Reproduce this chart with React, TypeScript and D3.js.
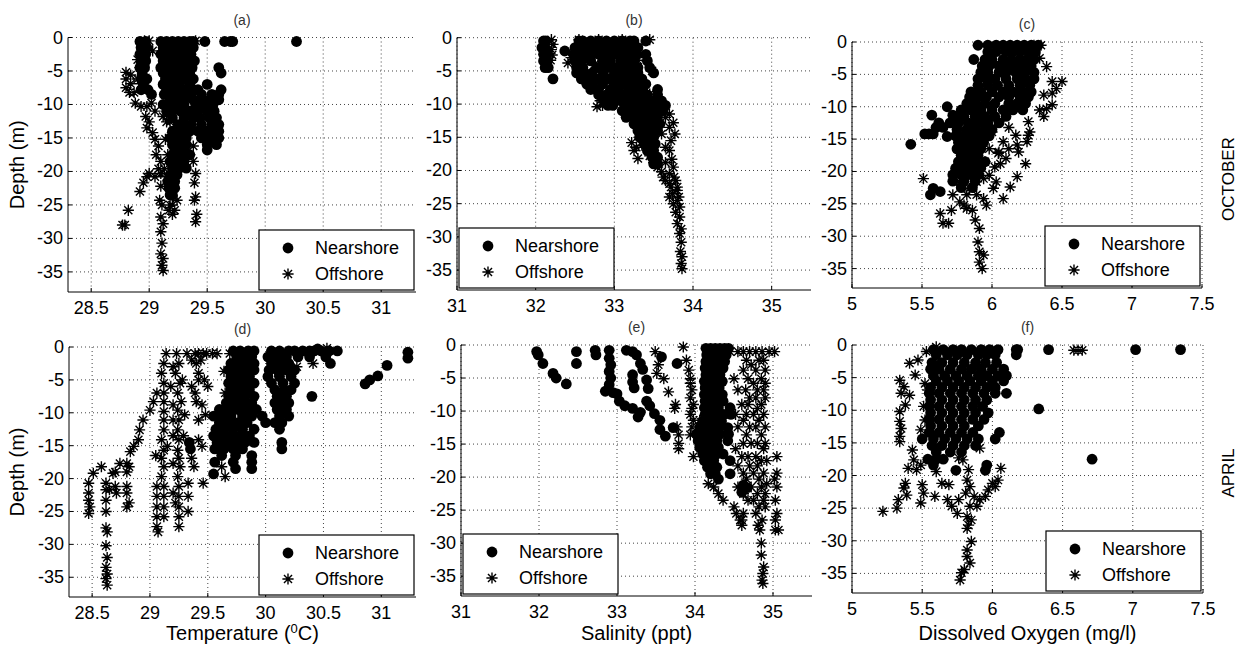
import React from "react";
import * as d3 from "d3";

// each row: [depth (m), [x values observed at that depth]]
type Row = [number, number[]];

const tempTicks = [28.5, 29, 29.5, 30, 30.5, 31];
const salTicks = [31, 32, 33, 34, 35];
const doTicks = [5, 5.5, 6, 6.5, 7, 7.5];
const depthTicks = [0, -5, -10, -15, -20, -25, -30, -35];
const panelTitles = ["(a)", "(b)", "(c)", "(d)", "(e)", "(f)"];
const seriesNames = ["Nearshore", "Offshore"];

// (a) October temperature
const octTempNear: Row[] = [
  [-0.6, [28.92, 28.97, 29.1, 29.15, 29.2, 29.25, 29.3, 29.35, 29.38, 29.48, 29.65, 29.7, 29.72, 30.27]],
  [-1.5, [28.93, 28.98, 29.12, 29.18, 29.22, 29.28, 29.33, 29.38]],
  [-2.5, [28.92, 28.97, 29.1, 29.16, 29.24, 29.3, 29.36]],
  [-3.5, [28.93, 28.97, 29.12, 29.2, 29.26, 29.34, 29.39]],
  [-4.5, [28.92, 28.96, 29.1, 29.17, 29.22, 29.3, 29.37, 29.6]],
  [-5.3, [28.94, 29.12, 29.2, 29.28, 29.35, 29.62]],
  [-6.2, [28.93, 28.98, 29.14, 29.22, 29.3, 29.38]],
  [-7, [28.95, 29.12, 29.18, 29.26, 29.35, 29.5]],
  [-7.8, [28.93, 28.99, 29.15, 29.22, 29.3, 29.38, 29.42, 29.62]],
  [-8.5, [29.02, 29.13, 29.2, 29.28, 29.36, 29.45, 29.54, 29.6]],
  [-9.3, [29.18, 29.25, 29.3, 29.38, 29.45, 29.52, 29.6]],
  [-10, [29.12, 29.17, 29.22, 29.3, 29.4, 29.48, 29.55]],
  [-11, [29.15, 29.2, 29.27, 29.35, 29.42, 29.5, 29.56]],
  [-12, [29.2, 29.3, 29.38, 29.44, 29.52, 29.58]],
  [-13, [29.25, 29.3, 29.36, 29.45, 29.54, 29.6]],
  [-14, [29.2, 29.28, 29.35, 29.42, 29.5, 29.57, 29.6]],
  [-15, [29.18, 29.25, 29.32, 29.45, 29.52, 29.6]],
  [-16, [29.2, 29.26, 29.32, 29.5, 29.58]],
  [-16.8, [29.22, 29.3, 29.5]],
  [-17.5, [29.2, 29.25, 29.3, 29.35]],
  [-18.5, [29.18, 29.24, 29.3]],
  [-19.5, [29.2, 29.26, 29.32]],
  [-20.5, [29.18, 29.24]],
  [-21.5, [29.16, 29.22]],
  [-22.5, [29.17, 29.22]],
  [-23.5, [29.18, 29.2]],
];
const octTempOff: Row[] = [
  [-0.5, [28.96, 29.0, 29.4]],
  [-2, [29.03]],
  [-3.3, [28.9]],
  [-4.5, [28.92]],
  [-5.2, [28.8]],
  [-5.6, [28.84]],
  [-6.2, [28.8, 28.9]],
  [-6.9, [28.84, 28.93]],
  [-7.5, [28.8]],
  [-8.2, [28.83, 28.87]],
  [-9.8, [28.88, 29.02]],
  [-10.3, [28.93, 28.98]],
  [-11, [29.05]],
  [-11.8, [28.97, 29.12]],
  [-12.6, [29.0, 29.15, 29.18]],
  [-13.5, [28.98]],
  [-14.2, [29.03, 29.2]],
  [-15.2, [29.05, 29.14]],
  [-16.2, [29.08, 29.22, 29.38]],
  [-17.5, [29.06, 29.16, 29.35]],
  [-18.5, [29.1, 29.38]],
  [-19.6, [29.08, 29.13]],
  [-20.3, [29.0, 29.1, 29.4]],
  [-20.8, [28.98, 29.05, 29.15]],
  [-21.7, [28.95, 29.39]],
  [-22.2, [29.1, 29.2]],
  [-23, [28.92]],
  [-23.8, [29.4]],
  [-24.3, [29.09, 29.39, 29.24]],
  [-25, [29.11, 29.2, 29.18]],
  [-25.8, [28.82, 29.17, 29.22]],
  [-26.4, [29.41, 29.2]],
  [-26.8, [29.1]],
  [-27.5, [29.4]],
  [-27.8, [29.12]],
  [-28, [28.77, 28.79]],
  [-29, [29.1]],
  [-30.7, [29.11]],
  [-32.3, [29.1]],
  [-33, [29.12]],
  [-34, [29.11]],
  [-34.8, [29.12]],
];

// (b) October salinity
const octSalNear: Row[] = [
  [-0.5, [32.1, 32.13, 32.55, 32.6, 32.7, 32.8, 32.9, 33.0, 33.1, 33.2, 33.25, 33.4]],
  [-1.5, [32.08, 32.12, 32.5, 32.58, 32.66, 32.75, 32.85, 32.95, 33.05, 33.15, 33.22, 33.3]],
  [-2, [32.37]],
  [-2.5, [32.1, 32.14, 32.48, 32.55, 32.62, 32.72, 32.8, 32.92, 33.0, 33.1, 33.2, 33.28, 33.4]],
  [-3.5, [32.1, 32.15, 32.5, 32.58, 32.7, 32.85, 32.95, 33.08, 33.18, 33.25, 33.42]],
  [-4.5, [32.12, 32.16, 32.52, 32.6, 32.78, 32.9, 33.02, 33.12, 33.2, 33.3, 33.45]],
  [-5.3, [32.52, 32.62, 32.72, 32.86, 33.0, 33.1, 33.2, 33.3, 33.5]],
  [-6.2, [32.22, 32.58, 32.68, 32.8, 32.92, 33.05, 33.15, 33.25, 33.35]],
  [-7, [32.65, 32.72, 32.85, 33.0, 33.1, 33.2, 33.3, 33.4]],
  [-7.8, [32.7, 32.8, 32.95, 33.05, 33.18, 33.28, 33.36, 33.55]],
  [-8.6, [32.8, 32.9, 33.02, 33.12, 33.22, 33.32, 33.42, 33.55]],
  [-9.5, [32.88, 32.96, 33.08, 33.2, 33.3, 33.4, 33.5, 33.6]],
  [-10.2, [32.92, 32.98, 33.15, 33.25, 33.35, 33.45, 33.55, 33.65]],
  [-11, [33.1, 33.2, 33.3, 33.4, 33.5, 33.62]],
  [-12, [33.15, 33.25, 33.35, 33.45, 33.55]],
  [-13, [33.25, 33.35, 33.42, 33.5, 33.58]],
  [-14, [33.3, 33.4, 33.48, 33.55]],
  [-15, [33.32, 33.42, 33.5]],
  [-16, [33.38, 33.45, 33.52]],
  [-17, [33.42, 33.5]],
  [-18, [33.48, 33.55]],
  [-19, [33.5, 33.55]],
];
const octSalOff: Row[] = [
  [-0.3, [32.2, 32.55, 32.8, 33.1, 33.45]],
  [-1, [32.22]],
  [-1.8, [32.2]],
  [-2.6, [32.21, 32.6]],
  [-3.4, [32.19, 33.3]],
  [-3.8, [32.41]],
  [-3, [32.45, 33.4]],
  [-4, [32.75]],
  [-5, [33.48]],
  [-5.5, [32.7, 33.2]],
  [-6.5, [32.9]],
  [-8, [33.0]],
  [-8.5, [33.45]],
  [-9.2, [33.1]],
  [-9.5, [32.82]],
  [-10.2, [32.85]],
  [-10.4, [32.78, 33.6]],
  [-11.5, [33.25, 33.7]],
  [-12, [33.65]],
  [-12.5, [33.3]],
  [-12.8, [33.4, 33.75]],
  [-13.2, [33.55]],
  [-13.5, [33.35, 33.7]],
  [-14, [33.45]],
  [-14.5, [33.6, 33.77]],
  [-15.5, [33.72]],
  [-15.8, [33.22]],
  [-16.2, [33.35]],
  [-16.5, [33.28, 33.65]],
  [-17, [33.25, 33.7]],
  [-17.8, [33.45]],
  [-18.2, [33.3]],
  [-18.3, [33.73]],
  [-18.8, [33.5, 33.65]],
  [-19.5, [33.55, 33.75]],
  [-20.2, [33.6]],
  [-20.5, [33.7]],
  [-21, [33.62, 33.76]],
  [-21.5, [33.65, 33.78]],
  [-22, [33.7]],
  [-22.5, [33.72, 33.8]],
  [-23, [33.8]],
  [-23.5, [33.74]],
  [-24, [33.7, 33.82]],
  [-24.5, [33.8]],
  [-25, [33.75]],
  [-25.5, [33.83]],
  [-26.3, [33.78]],
  [-27, [33.83]],
  [-28, [33.8]],
  [-28.8, [33.85]],
  [-29.5, [33.83]],
  [-30.8, [33.85]],
  [-32.2, [33.84]],
  [-33, [33.86]],
  [-34, [33.85]],
  [-34.8, [33.86]],
];

// (c) October dissolved oxygen
const octDoNear: Row[] = [
  [-0.5, [5.9, 5.97, 6.03, 6.08, 6.13, 6.18, 6.23, 6.28, 6.33]],
  [-1.5, [5.97, 6.03, 6.1, 6.15, 6.2, 6.26, 6.31]],
  [-2.7, [5.87, 5.95, 6.0, 6.08, 6.14, 6.2, 6.25, 6.3]],
  [-3.7, [5.93, 5.98, 6.05, 6.12, 6.17, 6.22, 6.28]],
  [-4.7, [5.92, 5.97, 6.05, 6.1, 6.17, 6.23, 6.3]],
  [-5.7, [5.9, 5.96, 6.02, 6.1, 6.18, 6.24, 6.3]],
  [-6.7, [5.9, 5.97, 6.04, 6.12, 6.2, 6.27]],
  [-7.7, [5.85, 5.92, 6.0, 6.08, 6.15, 6.22, 6.28]],
  [-8.5, [5.84, 5.9, 5.96, 6.05, 6.12, 6.2, 6.26]],
  [-9.5, [5.82, 5.88, 5.95, 6.02, 6.12, 6.18, 6.24]],
  [-10, [5.68]],
  [-10.5, [5.78, 5.85, 5.92, 6.0, 6.08, 6.15, 6.22]],
  [-11.3, [5.57, 5.72]],
  [-11.5, [5.73, 5.8, 5.88, 5.95, 6.02, 6.1]],
  [-12.5, [5.62, 5.7, 5.76, 5.83, 5.9, 5.97, 6.05]],
  [-13.2, [5.6, 5.65]],
  [-13.5, [5.75, 5.82, 5.88, 5.95, 6.0]],
  [-14.2, [5.52, 5.55, 5.58]],
  [-14.5, [5.74, 5.8, 5.86, 5.92, 5.98]],
  [-14.6, [5.68]],
  [-15.5, [5.76, 5.82, 5.88, 5.94]],
  [-15.8, [5.42]],
  [-16.5, [5.75, 5.8, 5.86, 5.92]],
  [-17.5, [5.78, 5.84, 5.9]],
  [-18.5, [5.76, 5.82, 5.88, 5.95]],
  [-19.5, [5.74, 5.8, 5.86, 5.92]],
  [-20.5, [5.72, 5.78, 5.85, 5.9]],
  [-21.5, [5.72, 5.8, 5.88]],
  [-22.5, [5.78, 5.86]],
  [-22.6, [5.58]],
  [-23.1, [5.63]],
  [-23.6, [5.56]],
];
const octDoOff: Row[] = [
  [-0.5, [6.35, 6.3]],
  [-2.5, [6.34]],
  [-3.8, [6.39]],
  [-6.1, [6.43, 6.5]],
  [-7.2, [6.46]],
  [-7.9, [6.43]],
  [-8.2, [6.37]],
  [-9.7, [6.43]],
  [-10.3, [6.39]],
  [-10.5, [6.34]],
  [-11.5, [6.37]],
  [-12.3, [6.26, 6.05]],
  [-13.2, [6.12]],
  [-13.9, [6.27, 6.0]],
  [-14.4, [6.26, 6.17]],
  [-15.4, [6.25, 6.08]],
  [-15.9, [6.18]],
  [-16.5, [5.98, 6.12]],
  [-17, [6.19, 6.05]],
  [-17.2, [6.045]],
  [-18, [6.1]],
  [-18.5, [5.77, 5.95]],
  [-18.8, [6.24, 6.06]],
  [-19.3, [6.02]],
  [-20.6, [5.82, 5.98]],
  [-20.8, [6.18]],
  [-21.1, [5.51, 5.94]],
  [-21.6, [6.03, 5.89, 5.77]],
  [-22.4, [6.13]],
  [-22.6, [6.01, 5.84]],
  [-23.6, [5.72, 5.82, 5.89]],
  [-24.2, [6.08, 5.94]],
  [-24.7, [5.77]],
  [-25.2, [5.96, 5.8]],
  [-25.7, [5.82]],
  [-26, [5.71, 5.86]],
  [-26.5, [5.63]],
  [-27.5, [5.88]],
  [-28, [5.65, 5.69]],
  [-28.8, [5.91]],
  [-30.9, [5.9]],
  [-32.4, [5.91]],
  [-32.9, [5.94]],
  [-34, [5.91]],
  [-35, [5.93]],
];

// (d) April temperature
const aprTempNear: Row[] = [
  [-0.3, [30.45]],
  [-0.6, [29.72, 29.78, 29.85, 29.9, 30.05, 30.12, 30.2, 30.25, 30.32, 30.38, 30.42, 30.48, 30.55, 30.62]],
  [-0.8, [31.23]],
  [-1.5, [29.75, 29.8, 29.88, 30.02, 30.1, 30.18, 30.28, 30.38, 30.52]],
  [-1.7, [31.23]],
  [-2.5, [29.7, 29.77, 29.85, 29.9, 30.05, 30.12, 30.2, 30.56]],
  [-2.8, [31.05]],
  [-3.5, [29.68, 29.75, 29.82, 29.9, 30.03, 30.1, 30.18, 30.25]],
  [-4.4, [30.97]],
  [-4.5, [29.7, 29.78, 29.86, 30.02, 30.12, 30.22]],
  [-5, [30.9]],
  [-5.5, [29.68, 29.74, 29.82, 29.9, 30.05, 30.15, 30.25]],
  [-5.6, [30.86]],
  [-6.5, [29.7, 29.78, 29.86, 30.08, 30.16, 30.22]],
  [-7.5, [29.68, 29.75, 29.82, 29.9, 30.1, 30.18, 30.4]],
  [-8.5, [29.66, 29.72, 29.8, 29.88, 30.08, 30.15, 30.2]],
  [-9.5, [29.6, 29.68, 29.76, 29.84, 29.92, 30.1, 30.18]],
  [-10.5, [29.55, 29.62, 29.7, 29.8, 29.88, 29.97, 30.12, 30.2]],
  [-11.5, [29.6, 29.68, 29.76, 29.84, 30.0, 30.08, 30.14]],
  [-12.5, [29.57, 29.64, 29.72, 29.8, 29.9, 30.12]],
  [-13.5, [29.55, 29.62, 29.7, 29.78, 29.86]],
  [-14.5, [29.34, 29.58, 29.66, 29.74, 29.82, 29.9, 30.14]],
  [-15.5, [29.35, 29.56, 29.64, 29.72, 29.8, 30.14]],
  [-16.5, [29.62, 29.74, 29.88]],
  [-17.5, [29.56, 29.72, 29.88]],
  [-18.5, [29.74, 29.88]],
  [-19.3, [29.55]],
];
const aprTempOff: Row[] = [
  [-0.2, [30.53]],
  [-1, [29.14, 29.23, 29.32, 29.39, 29.42, 29.46, 29.49, 29.54, 29.58, 29.69]],
  [-2, [29.36, 29.44]],
  [-2.5, [29.12, 29.25, 29.4, 30.41]],
  [-3, [30.27, 29.2]],
  [-3.7, [30.08, 29.64]],
  [-4, [29.1, 29.22, 29.42]],
  [-5, [29.42, 29.47, 29.28]],
  [-5.5, [29.12, 29.26]],
  [-6, [29.18, 29.36, 29.5]],
  [-7, [29.06, 29.12, 29.24, 29.39, 29.65]],
  [-8.3, [29.03, 29.12, 29.27, 29.4]],
  [-8.8, [29.45, 29.2]],
  [-9.6, [29.0, 29.24]],
  [-9.8, [29.12]],
  [-10.3, [29.48, 29.3]],
  [-11.1, [28.94, 29.12, 29.42, 29.25, 29.2]],
  [-12.6, [28.91, 29.12, 29.24, 29.66]],
  [-13.5, [29.2, 29.29]],
  [-14.1, [28.9, 29.1, 29.25, 29.42]],
  [-15.1, [28.86, 29.15, 29.45]],
  [-15.7, [29.12, 29.24]],
  [-15.9, [28.83]],
  [-16.5, [29.05]],
  [-16.9, [29.1, 29.25, 29.36]],
  [-17.7, [28.74, 28.8, 29.2]],
  [-18.2, [28.58, 28.82, 29.12, 29.26, 29.38, 29.62]],
  [-19, [28.7, 28.8]],
  [-19.2, [28.51, 28.68]],
  [-19.7, [29.1, 29.24, 29.65]],
  [-20.7, [28.47, 28.62, 29.33, 29.46]],
  [-21.2, [28.7, 28.8, 29.06, 29.12, 29.25]],
  [-21.7, [28.62, 28.65]],
  [-22.2, [28.47, 28.71, 28.8, 29.2]],
  [-22.7, [29.06, 29.12, 29.25, 29.33]],
  [-23.3, [28.47, 28.62]],
  [-23.7, [28.82, 29.22]],
  [-24.3, [28.48, 28.8, 29.06, 29.12, 29.25]],
  [-25, [28.62, 29.33]],
  [-25.3, [28.47]],
  [-25.8, [29.06, 29.12, 29.25]],
  [-27.3, [29.06, 29.25]],
  [-27.5, [28.62]],
  [-28.1, [28.63, 29.07]],
  [-30.2, [28.62]],
  [-32, [28.63]],
  [-33.5, [28.62]],
  [-34.5, [28.63]],
  [-35.2, [28.62]],
  [-36.2, [28.63]],
];

// (e) April salinity
const aprSalNear: Row[] = [
  [-0.5, [34.14, 34.2, 34.26, 34.32, 34.38, 34.43]],
  [-0.8, [32.72, 32.9, 33.12]],
  [-1, [31.97, 32.48, 33.2]],
  [-1.5, [31.99, 32.73, 33.25, 34.15, 34.22, 34.28, 34.34, 34.4]],
  [-1.8, [33.57]],
  [-2, [32.9]],
  [-2.5, [34.14, 34.2, 34.26, 34.32, 34.38]],
  [-2.8, [32.05, 32.48, 33.3, 33.77]],
  [-3, [32.92]],
  [-3.5, [34.13, 34.19, 34.25, 34.31, 34.36]],
  [-3.7, [33.33]],
  [-4, [32.9]],
  [-4.3, [32.18]],
  [-4.5, [33.2, 34.14, 34.2, 34.26, 34.32]],
  [-5, [32.22, 32.92]],
  [-5.3, [33.38]],
  [-5.5, [34.12, 34.18, 34.24, 34.3, 34.35]],
  [-5.6, [33.2]],
  [-5.9, [32.35]],
  [-6, [32.9]],
  [-6.5, [33.22, 34.13, 34.19, 34.25, 34.31]],
  [-6.6, [33.4]],
  [-7, [32.85]],
  [-7.2, [32.95]],
  [-7.4, [33.0]],
  [-7.5, [34.12, 34.18, 34.24, 34.3, 34.35]],
  [-8.5, [33.03, 33.38, 34.13, 34.19, 34.25, 34.31, 34.36]],
  [-9.2, [33.1, 33.42]],
  [-9.5, [34.12, 34.18, 34.24, 34.3, 34.45]],
  [-9.6, [33.2]],
  [-10.2, [33.3]],
  [-10.4, [33.48]],
  [-10.5, [34.13, 34.19, 34.25, 34.31, 34.37, 34.46]],
  [-10.9, [33.27]],
  [-11.4, [33.55]],
  [-11.5, [34.1, 34.16, 34.22, 34.28, 34.34]],
  [-12.5, [33.72, 34.06, 34.12, 34.18, 34.24, 34.3, 34.42]],
  [-12.8, [33.55]],
  [-13.5, [34.02, 34.08, 34.14, 34.2, 34.26, 34.32, 34.43]],
  [-13.8, [33.62]],
  [-14.5, [34.04, 34.1, 34.16, 34.22, 34.28, 34.42]],
  [-15.5, [34.06, 34.12, 34.18, 34.24, 34.3]],
  [-16.5, [34.1, 34.16, 34.22, 34.28, 34.36]],
  [-17.5, [34.12, 34.18, 34.24, 34.45]],
  [-18.5, [34.16, 34.22, 34.28]],
  [-19.5, [34.2, 34.26, 34.45]],
  [-20.3, [34.3]],
  [-21.2, [34.62]],
  [-21.6, [34.67]],
  [-22.3, [34.6]],
];
const aprSalOff: Row[] = [
  [-0.3, [33.85]],
  [-1, [33.49, 34.45, 34.55, 34.62, 34.7, 34.78, 34.86, 34.95, 35.02]],
  [-2.3, [33.89, 34.66, 34.82, 34.88]],
  [-3, [33.53, 34.72]],
  [-3.8, [33.92, 34.62, 34.78, 34.9]],
  [-4.3, [33.51]],
  [-5.1, [33.6, 33.94, 34.5, 34.68, 34.85]],
  [-5.8, [33.94, 34.75, 34.9]],
  [-6.8, [33.96, 34.55, 34.65, 34.8, 34.88]],
  [-7.1, [33.66]],
  [-8, [33.94, 34.7, 34.78, 34.9]],
  [-9, [33.75, 33.98, 34.6, 34.68, 34.85]],
  [-9.6, [33.74, 33.96, 34.8]],
  [-10.5, [33.94, 34.52, 34.66, 34.75, 34.88]],
  [-11.4, [34.06, 33.98, 34.62, 34.82]],
  [-12.4, [33.77, 33.96, 34.55, 34.7, 34.78, 34.9]],
  [-13.6, [33.79, 33.94, 34.66, 34.85]],
  [-14.9, [33.79, 34.62, 34.72, 34.8, 34.9]],
  [-15.7, [33.79, 34.52, 34.88]],
  [-16.9, [33.98, 34.6, 34.68, 34.78, 35.05]],
  [-17.5, [34.85, 34.92]],
  [-18.3, [34.55, 34.7, 34.8]],
  [-19.4, [34.62, 34.75, 34.88, 35.05]],
  [-20.3, [34.66, 34.82, 35.02]],
  [-21, [34.17, 34.92]],
  [-21.5, [34.24, 34.55, 34.72, 34.85, 35.05]],
  [-22.5, [34.3, 34.62, 34.8, 34.9]],
  [-23.5, [34.36, 34.68, 34.75, 34.88, 35.03]],
  [-24.5, [34.5, 34.82, 34.9]],
  [-25.5, [34.53, 34.62, 34.78, 35.05]],
  [-26.5, [34.58, 34.6, 34.86, 35.03]],
  [-27.3, [34.6, 34.81]],
  [-28, [35.07, 34.83, 35.03]],
  [-30, [34.85]],
  [-31.8, [34.85]],
  [-33.6, [34.88]],
  [-34.6, [34.87]],
  [-35.6, [34.86]],
  [-36.1, [34.87]],
];

// (f) April dissolved oxygen
const aprDoNear: Row[] = [
  [-0.7, [5.58, 5.65, 5.72, 5.78, 5.85, 5.92, 5.98, 6.04, 6.17, 6.18, 6.4, 7.02, 7.34]],
  [-1.5, [5.6, 5.68, 5.75, 5.82, 5.9, 5.96, 6.02, 6.17]],
  [-2.7, [5.57, 5.64, 5.72, 5.8, 5.88, 5.95, 6.03]],
  [-3.7, [5.56, 5.62, 5.7, 5.78, 5.85, 5.92, 6.0, 6.08]],
  [-4.7, [5.58, 5.66, 5.74, 5.82, 5.9, 5.96, 6.04, 6.1]],
  [-5.5, [5.6, 5.68, 5.76, 5.84, 5.92, 6.0, 6.08]],
  [-6.5, [5.56, 5.64, 5.72, 5.8, 5.88, 5.96, 6.02]],
  [-7.4, [5.55, 5.62, 5.7, 5.78, 5.86, 5.94, 6.02, 6.1]],
  [-8.4, [5.56, 5.64, 5.72, 5.8, 5.88, 5.96]],
  [-9.4, [5.55, 5.62, 5.7, 5.78, 5.86, 5.93]],
  [-9.8, [6.33]],
  [-10.4, [5.56, 5.64, 5.72, 5.8, 5.88, 5.97]],
  [-11.4, [5.55, 5.62, 5.7, 5.78, 5.86, 5.94]],
  [-12.4, [5.56, 5.64, 5.72, 5.8, 5.9]],
  [-13.4, [5.55, 5.62, 5.7, 5.78, 5.86, 6.05]],
  [-14.4, [5.5, 5.58, 5.66, 5.74, 5.82, 5.9, 6.02]],
  [-15.4, [5.57, 5.64, 5.72, 5.8, 5.88]],
  [-16.4, [5.6, 5.7, 5.78]],
  [-17.5, [5.54, 5.6, 5.65, 6.71]],
  [-18.4, [5.58, 5.96]],
  [-19.2, [5.74, 5.95]],
];
const aprDoOff: Row[] = [
  [-0.3, [5.6]],
  [-0.8, [6.58, 6.61, 6.64]],
  [-1, [5.53]],
  [-2.3, [5.47]],
  [-2.8, [5.41]],
  [-4.6, [5.45]],
  [-5.4, [5.34]],
  [-5.9, [5.52]],
  [-6.4, [5.37]],
  [-6.9, [5.54]],
  [-7.4, [5.35]],
  [-7.7, [5.41]],
  [-9.2, [5.38]],
  [-9.4, [5.51]],
  [-10.2, [5.34]],
  [-11.5, [5.52]],
  [-11.7, [5.34]],
  [-12.8, [5.35]],
  [-13, [5.49]],
  [-14, [5.34]],
  [-14.8, [5.34]],
  [-15.8, [5.91]],
  [-16.1, [5.43]],
  [-17.3, [5.76]],
  [-17.6, [5.44, 5.79]],
  [-18.4, [5.49]],
  [-18.9, [5.4, 6.06]],
  [-19.1, [5.46, 5.83]],
  [-19.4, [5.6]],
  [-20.7, [5.82, 6.04]],
  [-21.2, [5.38, 5.64, 6.0]],
  [-21.4, [5.5, 5.69]],
  [-21.7, [5.84, 6.02]],
  [-21.9, [5.37]],
  [-22.2, [5.97]],
  [-22.7, [5.51, 5.81]],
  [-23, [5.39]],
  [-23.2, [5.59, 5.87, 5.95]],
  [-23.7, [5.33, 5.68, 5.76, 5.91]],
  [-24.2, [5.49]],
  [-24.7, [5.71, 5.84, 5.89]],
  [-25, [5.32]],
  [-25.5, [5.22]],
  [-25.8, [5.75]],
  [-26.3, [5.82]],
  [-26.8, [5.85]],
  [-27.6, [5.83]],
  [-28.1, [5.82]],
  [-30.1, [5.85]],
  [-31.4, [5.82]],
  [-32.4, [5.82]],
  [-33.4, [5.84]],
  [-34.4, [5.8]],
  [-34.9, [5.78]],
  [-36, [5.77]],
];

const FONT = "'Liberation Sans', Arial, Helvetica, sans-serif";

// layout of the six axes, in page pixels
const panels = [
  { near: octTempNear, off: octTempOff, ticks: tempTicks, domain: [28.3, 31.3], left: 68, right: 416, top: 37.5, bottom: 292, legendLeft: false },
  { near: octSalNear, off: octSalOff, ticks: salTicks, domain: [31, 35.5], left: 457, right: 811, top: 37.7, bottom: 290, legendLeft: true },
  { near: octDoNear, off: octDoOff, ticks: doTicks, domain: [5, 7.5], left: 852, right: 1202, top: 42, bottom: 288, legendLeft: false },
  { near: aprTempNear, off: aprTempOff, ticks: tempTicks, domain: [28.3, 31.3], left: 69, right: 416, top: 347, bottom: 597, legendLeft: false },
  { near: aprSalNear, off: aprSalOff, ticks: salTicks, domain: [31, 35.5], left: 461, right: 812, top: 345, bottom: 596, legendLeft: true },
  { near: aprDoNear, off: aprDoOff, ticks: doTicks, domain: [5, 7.5], left: 852, right: 1203, top: 345, bottom: 593, legendLeft: false },
];

const flatten = (rows: Row[]) => rows.flatMap(([d, xs]) => xs.map((x) => ({ x, d })));

function starPath(cx: number, cy: number, r: number) {
  const k = r * 0.72;
  return `M${cx - r},${cy}H${cx + r}M${cx},${cy - r}V${cy + r}` +
    `M${cx - k},${cy - k}L${cx + k},${cy + k}M${cx - k},${cy + k}L${cx + k},${cy - k}`;
}

function Panel({ cfg, title }: { cfg: any; title: string }) {
  const x = d3.scaleLinear().domain(cfg.domain).range([cfg.left, cfg.right]);
  const y = d3.scaleLinear().domain([-38, 0]).range([cfg.bottom, cfg.top]);
  const near = flatten(cfg.near);
  const off = flatten(cfg.off);
  const stars = off.map((p) => starPath(x(p.x), y(p.d), 5.6)).join("");

  const lw = 155, lh = 60;
  const lx = cfg.legendLeft ? cfg.left + 2 : cfg.right - 2 - lw;
  const ly = cfg.bottom - 2 - lh;

  return (
    <g>
      {/* grid */}
      <g stroke="#444" strokeWidth={1} strokeDasharray="1 3">
        {cfg.ticks.map((t: number) => (
          <line key={"gx" + t} x1={x(t)} x2={x(t)} y1={cfg.top} y2={cfg.bottom} />
        ))}
        {depthTicks.map((t) => (
          <line key={"gy" + t} x1={cfg.left} x2={cfg.right} y1={y(t)} y2={y(t)} />
        ))}
      </g>
      {/* data */}
      <g fill="#000">
        {near.map((p, i) => (
          <circle key={i} cx={x(p.x)} cy={y(p.d)} r={5.4} />
        ))}
      </g>
      <path d={stars} stroke="#000" strokeWidth={1.4} fill="none" />
      {/* axes */}
      <g stroke="#000" strokeWidth={1} fill="none">
        <line x1={cfg.left} x2={cfg.left} y1={cfg.top} y2={cfg.bottom} />
        <line x1={cfg.left} x2={cfg.right} y1={cfg.bottom} y2={cfg.bottom} />
        {cfg.ticks.map((t: number) => (
          <line key={"tx" + t} x1={x(t)} x2={x(t)} y1={cfg.bottom} y2={cfg.bottom - 4} />
        ))}
        {depthTicks.map((t) => (
          <line key={"ty" + t} x1={cfg.left} x2={cfg.left + 4} y1={y(t)} y2={y(t)} />
        ))}
      </g>
      <g fontFamily={FONT} fontSize={18} fill="#000">
        {cfg.ticks.map((t: number) => (
          <text key={"lx" + t} x={x(t)} y={cfg.bottom + 22} textAnchor="middle">{String(t)}</text>
        ))}
        {depthTicks.map((t) => (
          <text key={"ly" + t} x={cfg.left - 5} y={y(t)} textAnchor="end" dominantBaseline="central">{String(t)}</text>
        ))}
      </g>
      <text x={(cfg.left + cfg.right) / 2} y={cfg.top - 13} textAnchor="middle" fontFamily={FONT} fontSize={14} fill="#333">
        {title}
      </text>
      {/* legend */}
      <g>
        <rect x={lx} y={ly} width={lw} height={lh} fill="#fff" stroke="#000" strokeWidth={1.2} />
        <circle cx={lx + 29} cy={ly + 18} r={5.4} fill="#000" />
        <path d={starPath(lx + 29, ly + 44, 5.6)} stroke="#000" strokeWidth={1.4} />
        <text x={lx + 56} y={ly + 18} dominantBaseline="central" fontFamily={FONT} fontSize={18}>{seriesNames[0]}</text>
        <text x={lx + 56} y={ly + 44} dominantBaseline="central" fontFamily={FONT} fontSize={18}>{seriesNames[1]}</text>
      </g>
    </g>
  );
}

export default function App() {
  const rowMid = [(37.5 + 292) / 2, (347 + 597) / 2];
  return (
    <svg width={1244} height={648} style={{ position: "absolute", left: 0, top: 0, display: "block" }}>
      <rect width={1244} height={648} fill="#fff" />
      {panels.map((p, i) => (
        <Panel key={i} cfg={p} title={panelTitles[i]} />
      ))}
      <g fontFamily={FONT} fontSize={20} fill="#000">
        {rowMid.map((m, i) => (
          <text key={i} transform={`translate(24,${m}) rotate(-90)`} textAnchor="middle">Depth (m)</text>
        ))}
        <text x={242.5} y={640} textAnchor="middle">
          Temperature (<tspan fontSize={13} dy={-7}>0</tspan><tspan dy={7}>C)</tspan>
        </text>
        <text x={636.5} y={640} textAnchor="middle">Salinity (ppt)</text>
        <text x={1027.5} y={640} textAnchor="middle">Dissolved Oxygen (mg/l)</text>
      </g>
      <g fontFamily={FONT} fontSize={17} fill="#000">
        <text transform="translate(1234,179) rotate(-90)" textAnchor="middle">OCTOBER</text>
        <text transform="translate(1234,473) rotate(-90)" textAnchor="middle">APRIL</text>
      </g>
    </svg>
  );
}
